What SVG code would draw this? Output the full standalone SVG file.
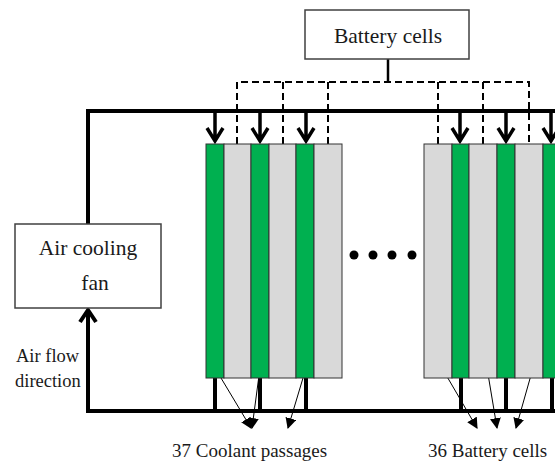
<svg xmlns="http://www.w3.org/2000/svg" width="555" height="461" viewBox="0 0 555 461">
<defs>
<style>
.txt{font-family:"Liberation Serif","Times New Roman",serif;fill:#1a1a1a}
.box{fill:#fff;stroke:#404040;stroke-width:1.5}
.g{fill:#00B050;stroke:#333;stroke-width:1}
.s{fill:#D9D9D9;stroke:#333;stroke-width:1}
.thick{stroke:#000;stroke-width:4;fill:none}
.arr{stroke:#000;stroke-width:3.5;fill:none}
.dash{stroke:#000;stroke-width:2;fill:none;stroke-dasharray:7,4}
.ptr{stroke:#000;stroke-width:1;fill:none}
</style>
<marker id="ah" viewBox="0 0 10 10" refX="9" refY="5" markerWidth="11" markerHeight="11" markerUnits="userSpaceOnUse" orient="auto">
<path d="M0,0 L10,5 L0,10 Z" fill="#000"/>
</marker>
</defs>
<rect width="555" height="461" fill="#fff"/>

<g id="connectors">
<path class="thick" d="M88,224 V111 H555"/>
<path class="thick" d="M555,411 H86"/>
<path class="thick" d="M88,411 V310"/>
<polyline class="thick" points="80,322 88,310 96,322"/>
<path class="thick" d="M215,378 V411 M260,378 V411 M306,378 V411 M461,378 V411 M506,378 V411 M552,378 V411"/>
<g class="arr">
<path d="M215,113 V141 M207,128 L215,141 L223,128"/>
<path d="M260,113 V141 M252,128 L260,141 L268,128"/>
<path d="M306,113 V141 M298,128 L306,141 L314,128"/>
<path d="M460,113 V141 M452,128 L460,141 L468,128"/>
<path d="M506,113 V141 M498,128 L506,141 L514,128"/>
<path d="M551,113 V141 M543,128 L551,141 L559,128"/>
</g>
<path stroke="#000" stroke-width="2.5" d="M388,59 V82"/>
<path class="dash" d="M237,144 V82 H529 V144"/>
<path class="dash" d="M283,144 V82 M328,144 V82 M438,144 V82 M483,144 V82"/>
<g class="ptr" marker-end="url(#ah)">
<path d="M215,368 L251,428"/>
<path d="M260,368 L252,428"/>
<path d="M306,368 L288,428"/>
<path d="M442,368 L477,428"/>
<path d="M487,368 L497,428"/>
<path d="M533,368 L516,428"/>
</g>
</g>

<g id="battery-cells-box">
<rect class="box" x="305" y="10" width="164" height="49"/>
<text class="txt" x="388" y="43" font-size="21.5" text-anchor="middle">Battery cells</text>
</g>

<g id="air-cooling-fan">
<rect class="box" x="15" y="224" width="146" height="84"/>
<text class="txt" x="88" y="255" font-size="21.5" text-anchor="middle">Air cooling</text>
<text class="txt" x="95" y="290" font-size="21.5" text-anchor="middle">fan</text>
</g>

<g id="air-flow-label">
<text class="txt" x="16" y="362" font-size="18.5">Air flow</text>
<text class="txt" x="15" y="387" font-size="18.5">direction</text>
</g>

<g id="left-stack">
<rect class="g" x="206" y="144" width="18" height="234"/>
<rect class="s" x="224" y="144" width="27" height="234"/>
<rect class="g" x="251" y="144" width="18" height="234"/>
<rect class="s" x="269" y="144" width="27" height="234"/>
<rect class="g" x="296" y="144" width="18" height="234"/>
<rect class="s" x="314" y="144" width="28" height="234"/>
</g>

<g id="right-stack">
<rect class="s" x="424" y="144" width="28" height="234"/>
<rect class="g" x="452" y="144" width="17" height="234"/>
<rect class="s" x="469" y="144" width="28" height="234"/>
<rect class="g" x="497" y="144" width="18" height="234"/>
<rect class="s" x="515" y="144" width="28" height="234"/>
<rect class="g" x="543" y="144" width="18" height="234"/>
</g>

<g id="ellipsis">
<circle cx="354" cy="255" r="4.5" fill="#000"/>
<circle cx="373" cy="255" r="4.5" fill="#000"/>
<circle cx="392" cy="255" r="4.5" fill="#000"/>
<circle cx="412" cy="255" r="4.5" fill="#000"/>
</g>

<g id="labels">
<text class="txt" x="172" y="457" font-size="19">37 Coolant passages</text>
<text class="txt" x="428" y="457" font-size="19">36 Battery cells</text>
</g>
</svg>
